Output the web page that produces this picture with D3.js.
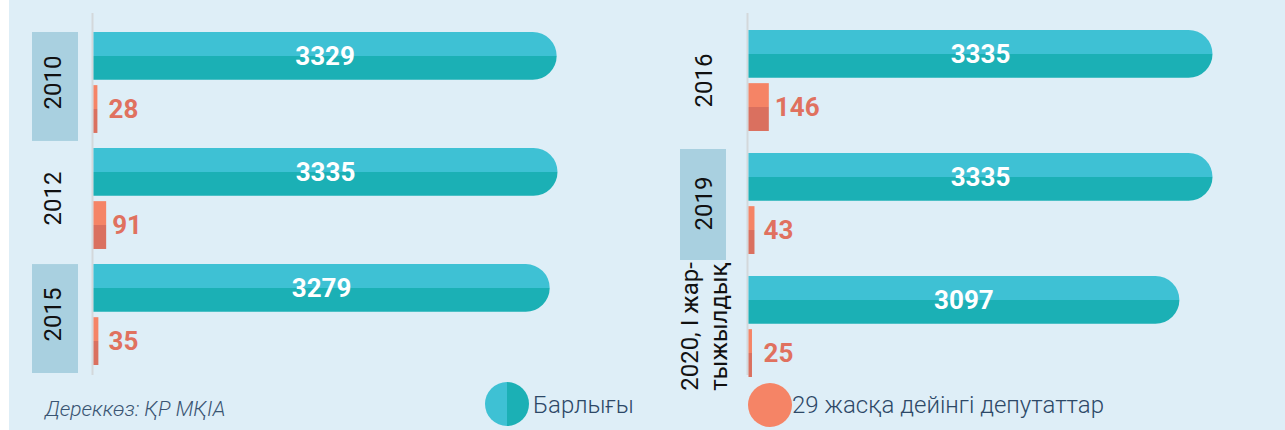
<!DOCTYPE html>
<html>
<head>
<meta charset="utf-8">
<script src="https://cdn.jsdelivr.net/npm/d3@7"></script>
<style>
  html, body { margin: 0; padding: 0; background: #ffffff; }
  svg { display: block; }
</style>
</head>
<body>
<svg id="chart" width="1285" height="430"></svg>
<script>
// Deputies of local representative bodies: total vs. under 29 years old
const leftYears = [["2010"], ["2012"], ["2015"]];
const leftTotal = [3329, 3335, 3279];
const leftYoung = [28, 91, 35];
const leftBoxed = [true, false, true];

const rightYears = [["2016"], ["2019"], ["2020, І жар-", "тыжылдық"]];
const rightTotal = [3335, 3335, 3097];
const rightYoung = [146, 43, 25];
const rightBoxed = [false, true, false];

const legendLabels = ["Барлығы", "29 жасқа дейінгі депутаттар"];
const sourceText = "Дереккөз: ҚР МҚІА";

const W = 1285, H = 430;
const svg = d3.select("#chart");

const TEAL_L = "#3ec1d4", TEAL_D = "#1bb0b5";
const ORANGE_L = "#f58466", ORANGE_D = "#da705f";

// background
svg.append("rect").attr("x", 9).attr("y", 0).attr("width", W - 9).attr("height", H).attr("fill", "#deeef7");

// split fills: light top half / dark bottom half
const defs = svg.append("defs");
function splitGrad(id, c1, c2, horizontal) {
  const g = defs.append("linearGradient").attr("id", id)
    .attr("x1", 0).attr("y1", 0)
    .attr("x2", horizontal ? 1 : 0).attr("y2", horizontal ? 0 : 1);
  g.append("stop").attr("offset", "0%").attr("stop-color", c1);
  g.append("stop").attr("offset", "50%").attr("stop-color", c1);
  g.append("stop").attr("offset", "50%").attr("stop-color", c2);
  g.append("stop").attr("offset", "100%").attr("stop-color", c2);
}
splitGrad("gTeal", TEAL_L, TEAL_D, false);
splitGrad("gOrange", ORANGE_L, ORANGE_D, false);
splitGrad("gTealH", TEAL_L, TEAL_D, true);

// shared value scale
const x = d3.scaleLinear().domain([0, 3335]).range([0, 464]);

function pill(x0, y0, w, h) {
  const r = Math.min(h / 2, w);
  const p = d3.path();
  p.moveTo(x0, y0);
  p.lineTo(x0 + w - r, y0);
  p.arc(x0 + w - r, y0 + h / 2, r, -Math.PI / 2, Math.PI / 2);
  p.lineTo(x0, y0 + h);
  p.closePath();
  return p.toString();
}

function panel(cfg) {
  const years = cfg.years;
  const keys = years.map(d => d.join(" "));
  const y = d3.scaleBand().domain(keys).range(cfg.yRange).paddingInner(cfg.pad);
  const sub = d3.scaleBand().domain(["total", "young"]).range([0, y.bandwidth()]).paddingInner(0.1);
  const g = svg.append("g");
  const ax = cfg.axisX;

  // year boxes
  keys.forEach((k, i) => {
    if (cfg.boxed[i]) {
      g.append("rect")
        .attr("x", ax - cfg.boxRight - 46).attr("y", y(k) + cfg.boxTop)
        .attr("width", 46).attr("height", y.bandwidth() + cfg.boxExtra)
        .attr("fill", "#a9d0e0");
    }
  });

  // axis line
  g.append("line").attr("x1", ax).attr("x2", ax).attr("y1", 13).attr("y2", 375)
    .attr("stroke", "#d3d8db").attr("stroke-width", 2);

  keys.forEach((k, i) => {
    const top = y(k);
    const bt = top + sub("total"), by = top + sub("young"), bh = sub.bandwidth();
    const wT = x(cfg.total[i]);
    g.append("path").attr("d", pill(ax + 1, bt, wT, bh)).attr("fill", "url(#gTeal)");
    g.append("text")
      .attr("x", ax + 1 + wT / 2).attr("y", bt + bh / 2)
      .attr("dy", "0.36em").attr("text-anchor", "middle")
      .attr("fill", "#ffffff").attr("font-family", "Roboto, sans-serif")
      .attr("font-weight", 700).attr("font-size", 26)
      .text(cfg.total[i]);

    const wY = x(cfg.young[i]);
    g.append("rect").attr("x", ax + 1).attr("y", by).attr("width", wY).attr("height", bh)
      .attr("fill", "url(#gOrange)");
    g.append("text")
      .attr("x", Math.max(ax + 1 + wY + 6, ax + 16)).attr("y", by + bh / 2)
      .attr("dy", "0.36em").attr("text-anchor", "start")
      .attr("fill", "#e0715f").attr("font-family", "Roboto, sans-serif")
      .attr("font-weight", 700).attr("font-size", 26)
      .text(cfg.young[i]);

    // rotated year label
    const lines = years[i];
    const cx = ax - cfg.labelOff, cy = top + y.bandwidth() / 2;
    const lh = 29;
    const t = g.append("text")
      .attr("transform", `translate(${cx},${cy}) rotate(-90)`)
      .attr("text-anchor", "middle")
      .attr("fill", "#111111").attr("font-family", "Roboto, sans-serif")
      .attr("font-size", 24);
    lines.forEach((ln, j) => {
      const off = (j - (lines.length - 1) / 2) * lh;
      t.append("tspan").attr("x", 0).attr("y", off).attr("dy", "0.36em").text(ln);
    });
  });
}

panel({ years: leftYears, total: leftTotal, young: leftYoung, boxed: leftBoxed,
        axisX: 92.5, yRange: [32, 365], pad: 0.13, labelOff: 40, boxRight: 14.5, boxTop: 0, boxExtra: 8 });
panel({ years: rightYears, total: rightTotal, young: rightYoung, boxed: rightBoxed,
        axisX: 747.5, yRange: [30, 377], pad: 0.179, labelOff: 44, boxRight: 21.5, boxTop: -4, boxExtra: 10 });

// source note
svg.append("text").attr("x", 45).attr("y", 416)
  .attr("fill", "#3a5573").attr("font-family", "Roboto, sans-serif")
  .attr("font-style", "italic").attr("font-weight", 300).attr("font-size", 21)
  .text(sourceText);

// legend
const lg = svg.append("g");
lg.append("circle").attr("cx", 507).attr("cy", 404).attr("r", 22).attr("fill", "url(#gTealH)");
lg.append("text").attr("x", 533).attr("y", 413)
  .attr("fill", "#2d4867").attr("font-family", "Roboto, sans-serif").attr("font-weight", 300)
  .attr("font-size", 24).text(legendLabels[0]);
lg.append("circle").attr("cx", 770).attr("cy", 405).attr("r", 22).attr("fill", ORANGE_L);
lg.append("text").attr("x", 792).attr("y", 413)
  .attr("fill", "#2d4867").attr("font-family", "Roboto, sans-serif").attr("font-weight", 300)
  .attr("font-size", 24).text(legendLabels[1]);
</script>
</body>
</html>
